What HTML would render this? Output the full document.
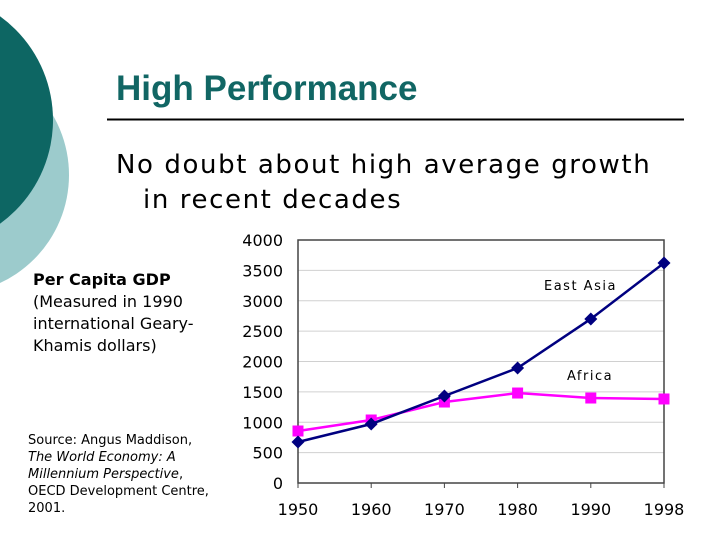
<!DOCTYPE html>
<html><head><meta charset="utf-8"><style>
body{margin:0;width:720px;height:540px;background:#fff;overflow:hidden;position:relative;font-family:"DejaVu Sans","Liberation Sans",sans-serif}
.abs{position:absolute}
</style></head><body>
<svg class="abs" style="left:0;top:0" width="720" height="540">
<circle cx="-50" cy="175" r="119" fill="#9ccbcc"/>
<circle cx="-75" cy="120" r="128" fill="#0d6663"/>
<line x1="107" y1="119.5" x2="684" y2="119.5" stroke="#000" stroke-width="2"/>
</svg>
<div class="abs" style="left:116px;top:69px;font-family:'Liberation Sans',sans-serif;font-weight:bold;font-size:35px;color:#116664">High Performance</div>
<div class="abs" style="left:116px;top:148px;font-size:26px;line-height:35px;letter-spacing:1.6px;color:#000">No doubt about high average growth<br><span style="padding-left:27px">in recent decades</span></div>
<div class="abs" style="left:33px;top:269px;font-size:16px;line-height:22px;color:#000"><b>Per Capita GDP</b><br>(Measured in 1990<br>international Geary-<br>Khamis dollars)</div>
<div class="abs" style="left:28px;top:432px;font-size:13px;line-height:17px;color:#000">Source: Angus Maddison,<br><i>The World Economy: A<br>Millennium Perspective</i>,<br>OECD Development Centre,<br>2001.</div>
<svg id="chart" class="abs" style="left:0;top:0" width="720" height="540"></svg>
<script>
const categories=["1950","1960","1970","1980","1990","1998"];
const eastAsia=[675,971,1432,1893,2700,3621];
const africa=[856,1037,1333,1481,1399,1383];
const yTicks=[0,500,1000,1500,2000,2500,3000,3500,4000];
const L=298,R=664,T=240,B=483,YMAX=4000;
const svg=document.getElementById('chart');
const NS='http://www.w3.org/2000/svg';
const x=i=>L+i*(R-L)/(categories.length-1);
const y=v=>B-v/YMAX*(B-T);
function mk(tag,attrs){const e=document.createElementNS(NS,tag);for(const k in attrs)e.setAttribute(k,attrs[k]);svg.appendChild(e);return e;}
yTicks.forEach(t=>{
 if(t>0&&t<YMAX){const g=mk('line',{x1:L,x2:R,y1:y(t),y2:y(t),stroke:'#d0d0d0','stroke-width':1});
 
 }
 const lb=mk('text',{x:283,y:y(t)+6,'text-anchor':'end','font-size':16,'font-family':'DejaVu Sans, sans-serif',fill:'#000'});
 lb.textContent=t;
 
 
});
const fr=mk('rect',{x:L,y:T,width:R-L,height:B-T,fill:'none',stroke:'#444','stroke-width':1.5});


categories.forEach((c,i)=>{
 const tk=mk('line',{x1:x(i),x2:x(i),y1:B,y2:B+5,stroke:'#444'});
 
 
 const lb=mk('text',{x:x(i),y:515,'text-anchor':'middle','font-size':16,'font-family':'DejaVu Sans, sans-serif',fill:'#000'});
 lb.textContent=c;
 
 
});
function series(vals,color,name,shape){
 const p=mk('polyline',{points:vals.map((v,i)=>x(i)+','+y(v)).join(' '),fill:'none',stroke:color,'stroke-width':2.5});
 
 
 vals.forEach((v,i)=>{
  let m;
  if(shape==='diamond'){const cx=x(i),cy=y(v),s=6.5;
   m=mk('polygon',{points:`${cx},${cy-s} ${cx+s},${cy} ${cx},${cy+s} ${cx-s},${cy}`,fill:color});}
  else{m=mk('rect',{x:x(i)-5.5,y:y(v)-5.5,width:11,height:11,fill:color});}
  
  
 });
}
series(africa,'#ff00ff','africa','square');
series(eastAsia,'#000080','east-asia','diamond');
const l1=mk('text',{x:544,y:290,'font-size':13,'letter-spacing':1.5,'font-family':'DejaVu Sans, sans-serif',fill:'#000'});
l1.textContent='East Asia';


const l2=mk('text',{x:567,y:380,'font-size':13,'letter-spacing':1.5,'font-family':'DejaVu Sans, sans-serif',fill:'#000'});
l2.textContent='Africa';


</script>
</body></html>
